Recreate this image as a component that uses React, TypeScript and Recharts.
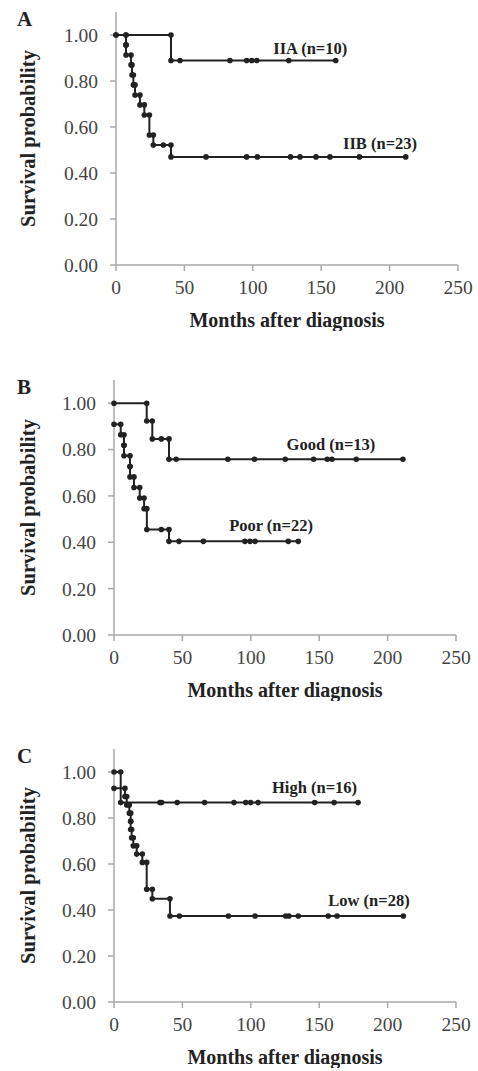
import { LineChart, Line, XAxis, YAxis, ReferenceDot } from 'recharts'

// Kaplan-Meier curves: time (months) and survival after that time.
// A drop to a lower value is an event, an equal value is a censored case.
const iiaT = [0, 7.3, 40.2, 46.8, 83.3, 95.5, 99.2, 102.9, 126.3, 160.6]
const iiaS = [1, 1, 0.889, 0.889, 0.889, 0.889, 0.889, 0.889, 0.889, 0.889]

const iibT = [0, 7.3, 7.3, 11.0, 11.7, 12.7, 13.9, 17.5, 20.7, 24.4, 27.3, 34.6, 40.2,
  65.8, 95.5, 103.3, 127.6, 134.5, 146.2, 156.4, 177.9, 211.8]
const iibS = [1, 0.957, 0.913, 0.87, 0.826, 0.783, 0.739, 0.696, 0.652, 0.565, 0.522, 0.522, 0.47,
  0.47, 0.47, 0.47, 0.47, 0.47, 0.47, 0.47, 0.47, 0.47]

const goodT = [0, 23.9, 28.0, 34.6, 40.2, 45.4, 83.2, 102.7, 125.2, 145.9, 155.9, 159.3, 177.1, 211.2]
const goodS = [1, 0.923, 0.846, 0.846, 0.758, 0.758, 0.758, 0.758, 0.758, 0.758, 0.758, 0.758, 0.758, 0.758]

const poorT = [0, 4.9, 7.3, 7.3, 11.7, 11.7, 14.6, 18.8, 22.0, 24.0, 34.6, 40.2,
  47.5, 65.3, 95.7, 99.4, 103.1, 127.4, 134.7]
const poorS = [0.909, 0.864, 0.818, 0.773, 0.727, 0.682, 0.636, 0.591, 0.545, 0.455, 0.455, 0.404,
  0.404, 0.404, 0.404, 0.404, 0.404, 0.404, 0.404]

const highT = [0, 4.9, 33.6, 34.8, 46.2, 66.2, 87.7, 96.3, 99.9, 105.3, 146.7, 160.9, 178.4]
const highS = [1, 0.867, 0.867, 0.867, 0.867, 0.867, 0.867, 0.867, 0.867, 0.867, 0.867, 0.867, 0.867]

const lowT = [0, 8.0, 9.3, 11.2, 12.2, 12.2, 12.9, 14.1, 16.6, 20.7, 23.9, 28.0, 40.9,
  47.8, 83.6, 103.1, 125.5, 127.9, 134.7, 156.6, 163.1, 211.5]
const lowS = [0.929, 0.893, 0.857, 0.821, 0.786, 0.75, 0.714, 0.679, 0.643, 0.607, 0.49, 0.449, 0.374,
  0.374, 0.374, 0.374, 0.374, 0.374, 0.374, 0.374, 0.374, 0.374]

const xTicks = [0, 50, 100, 150, 200, 250]
const yTicks = [0, 0.2, 0.4, 0.6, 0.8, 1.0]

type Pt = { t: number; s: number }

// adds the upper corner of every drop so the line steps
function kmPoints(times: number[], surv: number[]): Pt[] {
  const pts: Pt[] = []
  let prev = surv[0]
  times.forEach((t, i) => {
    const s = surv[i]
    if (i > 0 && s < prev) pts.push({ t, s: prev })
    pts.push({ t, s })
    prev = s
  })
  return pts
}

const FONT = '"Liberation Serif", "Times New Roman", serif'
const AXIS = '#a8a8a8'
const INK = '#222'
const TICK = { fill: '#444', fontSize: 19.5, fontFamily: FONT }

interface Note { t: number; s: number; text: string }
interface PanelProps {
  letter: string
  top: number
  left: number
  height: number
  curves: Pt[][]
  notes: Note[]
}

function Panel({ letter, top, left, height, curves, notes }: PanelProps) {
  return (
    <div style={{ position: 'absolute', top, left: 0, width: 478, height }}>
      <div style={{
        position: 'absolute', left: 17, top: 7, fontFamily: FONT, fontWeight: 'bold',
        fontSize: 21, color: INK,
      }}>{letter}</div>
      <LineChart width={478} height={height} margin={{ top: 12, right: 478 - left - 342, left: 0, bottom: 0 }}>
        <XAxis
          dataKey="t"
          type="number"
          domain={[0, 250]}
          ticks={xTicks}
          stroke={AXIS}
          strokeWidth={1.5}
          tickSize={6}
          tickMargin={9}
          tick={TICK}
          height={66}
          allowDuplicatedCategory
          label={{
            value: 'Months after diagnosis', position: 'insideBottom', offset: 4,
            style: { fontFamily: FONT, fontWeight: 'bold', fontSize: 20, fill: INK },
          }}
        />
        <YAxis
          dataKey="s"
          type="number"
          domain={[0, 1.1]}
          ticks={yTicks}
          tickFormatter={(v: number) => v.toFixed(2)}
          stroke={AXIS}
          strokeWidth={1.5}
          tickSize={6}
          tickMargin={12}
          tick={TICK}
          width={left}
          label={{
            value: 'Survival probability', angle: -90, position: 'insideLeft', offset: 28,
            style: { fontFamily: FONT, fontWeight: 'bold', fontSize: 20.5, fill: INK, textAnchor: 'middle' },
          }}
        />
        {curves.map((pts, i) => (
          <Line
            key={i}
            data={pts}
            dataKey="s"
            type="linear"
            stroke={INK}
            strokeWidth={2}
            dot={{ r: 2.8, fill: INK, stroke: INK, strokeWidth: 0 }}
            isAnimationActive={false}
          />
        ))}
        {notes.map((n) => (
          <ReferenceDot
            key={n.text}
            x={n.t}
            y={n.s}
            r={0}
            fill="none"
            stroke="none"
            label={{
              value: n.text, position: 'center',
              style: { fontFamily: FONT, fontWeight: 'bold', fontSize: 16.5, fill: INK },
            }}
          />
        ))}
      </LineChart>
    </div>
  )
}

export default function App() {
  return (
    <div style={{ position: 'absolute', top: 0, left: 0, width: 478, height: 1071, background: '#fff' }}>
      <Panel
        letter="A"
        top={0}
        left={116}
        height={331}
        curves={[kmPoints(iiaT, iiaS), kmPoints(iibT, iibS)]}
        notes={[
          { t: 142, s: 0.943, text: 'IIA (n=10)' },
          { t: 193, s: 0.53, text: 'IIB (n=23)' },
        ]}
      />
      <Panel
        letter="B"
        top={368}
        left={114}
        height={333}
        curves={[kmPoints(goodT, goodS), kmPoints(poorT, poorS)]}
        notes={[
          { t: 158.6, s: 0.823, text: 'Good (n=13)' },
          { t: 114.8, s: 0.472, text: 'Poor (n=22)' },
        ]}
      />
      <Panel
        letter="C"
        top={737}
        left={114}
        height={331}
        curves={[kmPoints(highT, highS), kmPoints(lowT, lowS)]}
        notes={[
          { t: 146.6, s: 0.932, text: 'High (n=16)' },
          { t: 186.4, s: 0.445, text: 'Low (n=28)' },
        ]}
      />
    </div>
  )
}
